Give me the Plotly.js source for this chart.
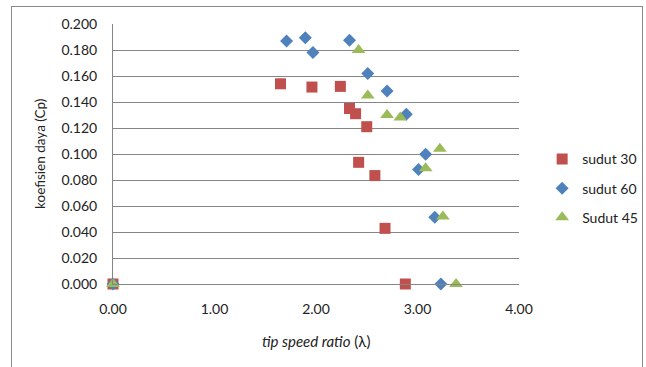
<!DOCTYPE html>
<html>
<head>
<meta charset="utf-8">
<script src="https://cdn.plot.ly/plotly-3.0.1.min.js"></script>
<style>
html,body{margin:0;padding:0;background:#fff;}
#frame{position:absolute;left:11px;top:6px;width:632px;height:362px;border:1px solid #8a8a8a;box-sizing:border-box;}
#chart{position:absolute;left:0;top:0;width:646px;height:367px;}
</style>
</head>
<body>
<div id="frame"></div>
<div id="chart"></div>
<script>
// sudut 30
const tsr30 = [0, 1.65, 1.96, 2.24, 2.33, 2.39, 2.50, 2.42, 2.58, 2.68, 2.88];
const cp30  = [0, 0.154, 0.1515, 0.152, 0.135, 0.131, 0.121, 0.0936, 0.0834, 0.0428, 0];
// sudut 60
const tsr60 = [0, 1.71, 1.895, 1.97, 2.33, 2.51, 2.70, 2.89, 3.08, 3.01, 3.17, 3.23];
const cp60  = [0, 0.187, 0.1895, 0.178, 0.1875, 0.162, 0.1485, 0.1305, 0.0998, 0.088, 0.0513, 0];
// Sudut 45
const tsr45 = [0, 2.42, 2.51, 2.70, 2.83, 3.22, 3.08, 3.25, 3.38];
const cp45  = [0, 0.180, 0.145, 0.130, 0.128, 0.104, 0.089, 0.052, 0];

const names = ['sudut 30', 'sudut 60', 'Sudut 45'];
const xTicks = [0, 1, 2, 3, 4];
const xTickText = ['0.00', '1.00', '2.00', '3.00', '4.00'];
const yTicks = [0, 0.02, 0.04, 0.06, 0.08, 0.10, 0.12, 0.14, 0.16, 0.18, 0.20];
const yTickText = ['0.000','0.020','0.040','0.060','0.080','0.100','0.120','0.140','0.160','0.180','0.200'];
const xTitle = '<i>tip speed ratio</i> (λ)';
const yTitle = 'koefisien daya (Cp)';

const font = 'Lato, "Open Sans", sans-serif';

const traces = [
  {x: tsr30, y: cp30, name: names[0], legendgroup: 'a', mode: 'markers', type: 'scatter', cliponaxis: false,
   marker: {symbol: 'square', size: 11, color: '#C0504D'}},
  {x: tsr60, y: cp60, name: names[1], legendgroup: 'b', mode: 'markers', type: 'scatter', cliponaxis: false,
   marker: {symbol: 'diamond', size: 10, color: '#4F81BD'}},
  {x: tsr45, y: cp45, name: names[2], legendgroup: 'c', mode: 'markers', type: 'scatter', cliponaxis: false,
   marker: {symbol: 'triangle-up', size: 12, color: '#9BBB59'}}
];

const layout = {
  width: 646, height: 367,
  margin: {l: 113, r: 127, t: 24, b: 83, autoexpand: false},
  paper_bgcolor: 'rgba(0,0,0,0)',
  plot_bgcolor: 'rgba(0,0,0,0)',
  font: {family: font, size: 13, color: '#222'},
  showlegend: true,
  legend: {x: 1.057, y: 0.541, xanchor: 'left', yanchor: 'top',
           font: {family: font, size: 14, color: '#222'},
           tracegroupgap: 8, itemwidth: 30, bgcolor: 'rgba(0,0,0,0)'},
  xaxis: {
    range: [0, 4], tickvals: xTicks, ticktext: xTickText,
    showgrid: false, zeroline: false, showline: true, linecolor: '#868686', linewidth: 1,
    ticks: '', ticklabelstandoff: 12,
    tickfont: {family: font, size: 14, color: '#222'}
  },
  yaxis: {
    range: [0, 0.2], tickvals: yTicks, ticktext: yTickText,
    showgrid: true, gridcolor: '#868686', gridwidth: 1,
    zeroline: false, showline: true, linecolor: '#868686', linewidth: 1,
    ticks: '', ticklabelstandoff: 12,
    tickfont: {family: font, size: 14, color: '#222'}
  },
  annotations: [
    {text: xTitle, xref: 'paper', yref: 'paper', x: 0.5, y: -0.219, xanchor: 'center', yanchor: 'middle',
     showarrow: false, font: {family: font, size: 15, color: '#222'}},
    {text: yTitle, xref: 'paper', yref: 'paper', x: -0.18, y: 0.5, xanchor: 'center', yanchor: 'middle',
     textangle: -90, showarrow: false, font: {family: font, size: 13.5, color: '#222'}}
  ]
};

Plotly.newPlot('chart', traces, layout, {displayModeBar: false, staticPlot: true});
</script>
</body>
</html>
